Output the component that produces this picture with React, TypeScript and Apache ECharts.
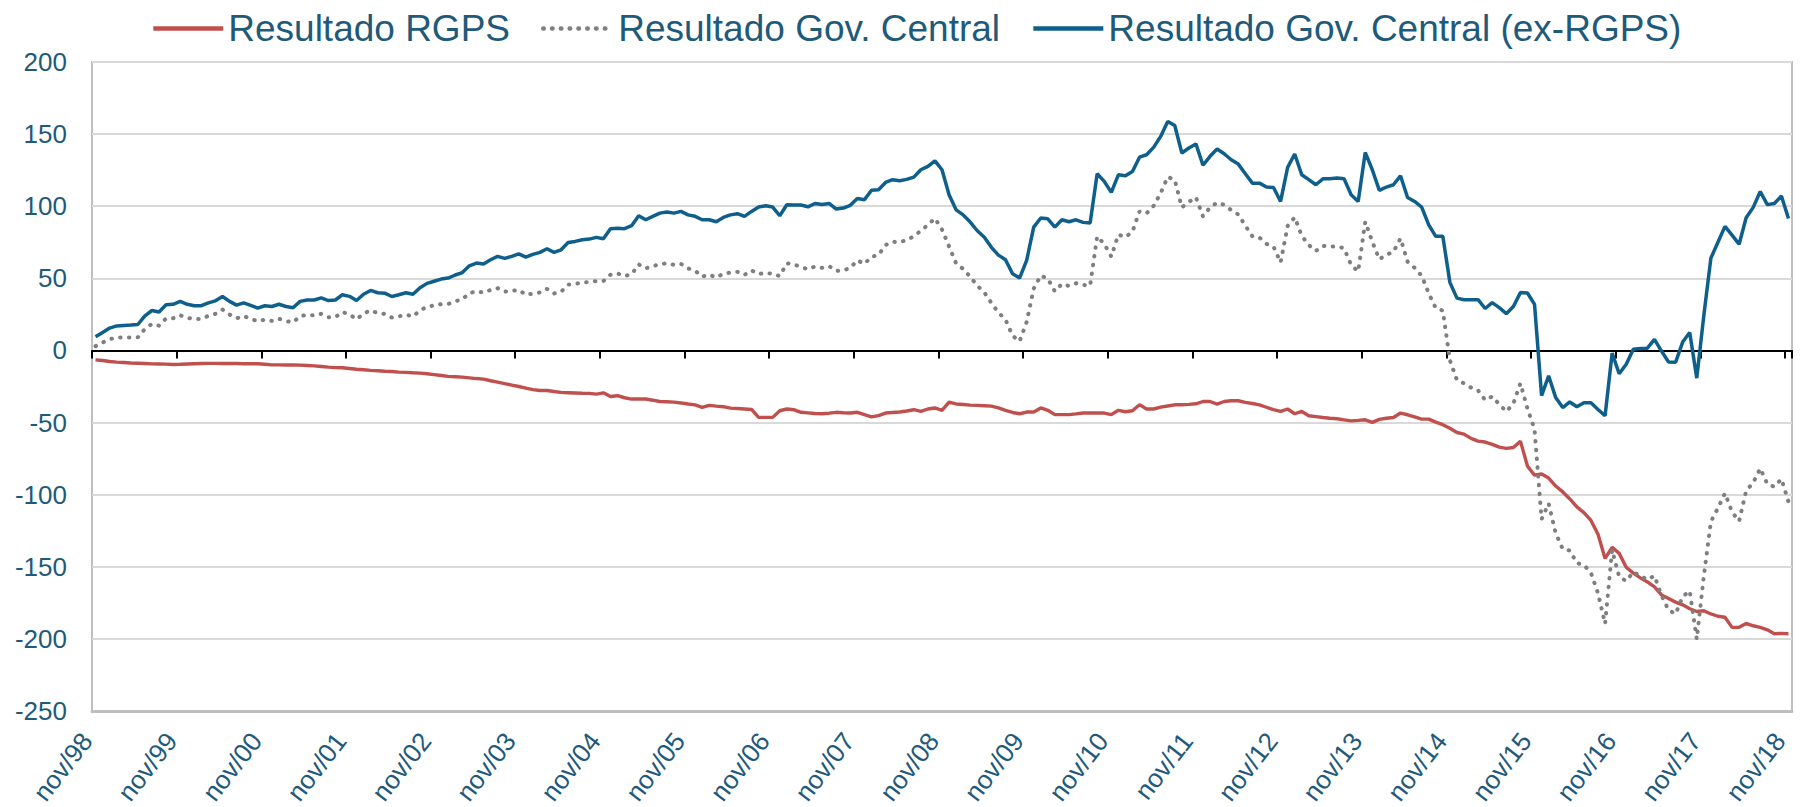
import React, { useEffect, useRef } from "react";
import * as echarts from "echarts";

const MONTHS = ["jan", "fev", "mar", "abr", "mai", "jun", "jul", "ago", "set", "out", "nov", "dez"];
const categories: string[] = [];
for (let k = 0; k < 241; k++) {
  const m = (10 + k) % 12;
  const y = 1998 + Math.floor((10 + k) / 12);
  categories.push(`${MONTHS[m]}/${String(y % 100).padStart(2, "0")}`);
}

const yTicks = { min: -250, max: 200, interval: 50 };

const seriesNames = ["Resultado RGPS", "Resultado Gov. Central", "Resultado Gov. Central (ex-RGPS)"];

const resultadoRGPS = [
  -6.5, -7, -7.7, -8.1, -8.4, -8.7, -8.9, -9.1, -9.3, -9.4,
  -9.5, -9.7, -9.6, -9.4, -9.2, -9.1, -9, -9, -9.1, -9.1,
  -9.1, -9.2, -9.2, -9.2, -9.6, -10, -10, -10.1, -10.1, -10.2,
  -10.4, -10.7, -11.1, -11.6, -11.9, -12, -12.5, -13, -13.4, -13.8,
  -14.1, -14.4, -14.6, -15, -15.2, -15.5, -15.7, -16.2, -16.8, -17.4,
  -18, -18.2, -18.5, -19, -19.5, -19.9, -21, -22, -23, -24,
  -25, -26.1, -27.2, -27.8, -27.8, -28.5, -29.1, -29.3, -29.5, -29.7,
  -29.8, -30.3, -29.4, -31.9, -31.4, -32.8, -33.7, -33.7, -33.7, -34.5,
  -35.4, -35.6, -35.8, -36.4, -37.1, -37.7, -39.5, -38.1, -38.6, -39,
  -40, -40.3, -40.6, -40.9, -46.4, -46.4, -46.4, -41.8, -40.6, -41.1,
  -42.9, -43.3, -43.7, -43.9, -43.5, -42.9, -43.2, -43.4, -42.9, -44.5,
  -46.1, -45.2, -43.4, -43, -42.7, -42, -41.1, -42.3, -40.6, -39.9,
  -41.5, -35.9, -37.1, -37.5, -37.9, -38.1, -38.3, -38.6, -39.8, -41.5,
  -43, -43.9, -42.7, -42.7, -39.9, -41.5, -44.5, -44.5, -44.5, -44,
  -43.4, -43.4, -43.4, -43.4, -44.5, -41.5, -42.5, -41.8, -37.6, -40.6,
  -40.6, -39.3, -38.5, -37.7, -37.7, -37.4, -37, -35.4, -35.4, -37.2,
  -35.4, -34.9, -34.9, -36, -36.8, -37.7, -39.4, -41.1, -42.3, -40.6,
  -43.9, -42.3, -45.3, -45.9, -46.5, -47, -47.4, -48.1, -48.8, -48.5,
  -48.1, -49.9, -47.8, -47, -46.5, -43.4, -44.6, -46, -47.6, -47.6,
  -49.7, -51.5, -54, -56.9, -58, -61, -62.9, -63.5, -65.1, -67,
  -67.9, -67.3, -62.9, -80.2, -86.5, -85.7, -88.5, -94, -98.1, -103,
  -108.5, -112.4, -117.9, -127.5, -144.2, -136.5, -140.7, -150.3, -154.4, -157.7,
  -160.5, -164, -169.5, -172, -174.5, -176.4, -179.1, -181, -180.5, -182.7,
  -184.3, -185, -192, -192, -189.3, -190.9, -192, -193.7, -196.4, -196.2,
  -196.4,
];

const resultadoGovCentral = [
  3, 5.5, 7.8, 8.9, 8.9, 8.9, 9.1, 14.9, 18.4, 17.2,
  22.2, 22.3, 24.4, 22.6, 21.8, 21.9, 24, 25.4, 28.3, 24.9,
  22.3, 23.8, 22, 20.2, 21.4, 20.5, 22, 20.4, 19.5, 23.8,
  24.6, 24.3, 25.4, 23, 23.1, 26.6, 25, 21.6, 25.6, 27.8,
  25.9, 25.3, 22.8, 23.6, 24.8, 23.5, 27.8, 30.3, 31.2, 32.1,
  32.2, 34.1, 35.5, 39.7, 41.1, 40.1, 41.9, 43.2, 40.8, 41.2,
  42, 38.6, 39.4, 40.2, 42.7, 39.5, 40.7, 45.6, 46.1, 47.1,
  47.4, 48.1, 48.1, 52.5, 53.4, 51.6, 52.8, 59.7, 56.9, 58.5,
  59.8, 60.4, 59.4, 60, 56.9, 55.3, 51.1, 52.5, 50.6, 53.2,
  54, 54.5, 52.4, 55.5, 53, 53.9, 53, 51.6, 60.4, 59.7,
  57.9, 56.3, 58.2, 57.3, 58.4, 55.1, 55.5, 57.2, 62.5, 60,
  64.9, 66.2, 73.1, 75.4, 75, 76.6, 79.1, 83, 87, 91.6,
  83.8, 72.1, 60.4, 56.5, 51.1, 44.9, 40.2, 32.9, 26.3, 21.4,
  10.2, 6.3, 19.7, 42.8, 51.9, 49.8, 41, 46.1, 44.7, 46.6,
  45.4, 44.9, 79.1, 73.8, 65.1, 80.3, 78.6, 82.3, 96.4, 95.1,
  100.2, 109.1, 120.3, 118.3, 99.2, 103, 106.2, 93, 99.2, 102.5,
  101, 97.3, 94.3, 86.5, 79.2, 78.3, 73.9, 71.9, 61, 86.3,
  92.3, 79.5, 73.1, 69, 72.5, 72, 72.1, 70.9, 59.2, 54.8,
  89.2, 75.4, 63.2, 66.3, 68.4, 77.7, 61.5, 57.3, 51.8, 39.5,
  29.4, 27.6, -6.8, -20.6, -22.8, -25.8, -27.7, -34.4, -31.9, -37.3,
  -42.4, -36.8, -22.8, -40.4, -54.6, -117, -106.1, -126.7, -137.7, -138.7,
  -147.5, -148.7, -154.2, -168.4, -189.5, -138.4, -156.9, -159.9, -153.6, -156.3,
  -158.9, -156.3, -170, -180, -182.7, -170.6, -166.7, -200.2, -156.3, -118.7,
  -109.3, -99, -112, -118.4, -97.3, -91.7, -81.8, -92.6, -94.5, -89.1,
  -104.9,
];

const resultadoExRGPS = [
  9.5, 12.5, 15.5, 17, 17.3, 17.6, 18, 24, 27.7, 26.6,
  31.7, 32, 34, 32, 31, 31, 33, 34.4, 37.4, 34,
  31.4, 33, 31.2, 29.4, 31, 30.5, 32, 30.5, 29.6, 34,
  35, 35, 36.5, 34.6, 35, 38.6, 37.5, 34.6, 39, 41.6,
  40, 39.7, 37.4, 38.6, 40, 39, 43.5, 46.5, 48, 49.5,
  50.2, 52.3, 54, 58.7, 60.6, 60, 62.9, 65.2, 63.8, 65.2,
  67, 64.7, 66.6, 68, 70.5, 68, 69.8, 74.9, 75.6, 76.8,
  77.2, 78.4, 77.5, 84.4, 84.8, 84.4, 86.5, 93.4, 90.6, 93,
  95.2, 96, 95.2, 96.4, 94, 93, 90.6, 90.6, 89.2, 92.2,
  94, 94.8, 93, 96.4, 99.4, 100.3, 99.4, 93.4, 101, 100.8,
  100.8, 99.6, 101.9, 101.2, 101.9, 98, 98.7, 100.6, 105.4, 104.5,
  111, 111.4, 116.5, 118.4, 117.7, 118.6, 120.2, 125.3, 127.6, 131.5,
  125.3, 108, 97.5, 94, 89, 83, 78.5, 71.5, 66.1, 62.9,
  53.2, 50.2, 62.4, 85.5, 91.8, 91.3, 85.5, 90.6, 89.2, 90.6,
  88.8, 88.3, 122.5, 117.2, 109.6, 121.8, 121.1, 124.1, 134, 135.7,
  140.8, 148.4, 158.8, 156, 136.9, 140.4, 143.2, 128.4, 134.6, 139.7,
  136.4, 132.2, 129.2, 122.5, 116, 116, 113.3, 113, 103.3, 126.9,
  136.2, 121.8, 118.4, 114.9, 119, 119, 119.5, 119, 108, 103.3,
  137.3, 125.3, 111, 113.3, 114.9, 121.1, 106.1, 103.3, 99.4, 87.1,
  79.1, 79.1, 47.2, 36.3, 35.2, 35.2, 35.2, 29.1, 33.2, 29.7,
  25.5, 30.5, 40.1, 39.8, 31.9, -31.3, -17.6, -32.7, -39.6, -35.7,
  -39, -36.3, -36.3, -40.9, -45.3, -1.9, -16.2, -9.6, 0.8, 1.4,
  1.6, 7.7, -0.5, -8, -8.2, 5.8, 12.4, -19.2, 24.2, 64,
  75, 86, 80, 73.6, 92, 99.2, 110.2, 101.1, 101.9, 107.1,
  91.5,
];

const TEXT = "#1F5A7A";
const FONT = "'Liberation Sans', Arial, sans-serif";

export default function App() {
  const ref = useRef<HTMLDivElement>(null);
  useEffect(() => {
    if (!ref.current) return;
    const chart = echarts.init(ref.current, undefined, { renderer: "svg" });
    chart.setOption({
      animation: false,
      backgroundColor: "#ffffff",
      textStyle: { fontFamily: FONT },
      legend: {
        left: 146,
        top: 5,
        itemWidth: 70,
        itemHeight: 14,
        itemGap: 31,
        itemStyle: { opacity: 0 },
        lineStyle: { width: 4.5 },
        textStyle: { fontSize: 37, color: TEXT, fontFamily: FONT },
        data: seriesNames,
      },
      grid: {
        left: 92,
        right: 18,
        top: 62,
        bottom: 96,
        containLabel: false,
        outerBoundsMode: "none",
        show: true,
        borderColor: "#bfbfbf",
        borderWidth: 2,
        backgroundColor: "transparent",
      },
      xAxis: [
        {
          type: "category",
          data: categories,
          position: "bottom",
          boundaryGap: true,
          axisLine: { show: true, onZero: false, lineStyle: { color: "#bfbfbf", width: 3 } },
          axisTick: { show: false },
          splitLine: { show: false },
          axisLabel: {
            interval: 11,
            rotate: 52,
            margin: 14,
            align: "right",
            verticalAlign: "middle",
            padding: [0, 14, 0, 0],
            fontSize: 26,
            color: TEXT,
            fontFamily: FONT,
          },
        },
        {
          type: "category",
          data: categories,
          position: "bottom",
          boundaryGap: true,
          axisLine: { show: true, onZero: true, lineStyle: { color: "#000000", width: 2 } },
          axisTick: { show: true, interval: 11, length: 8, lineStyle: { color: "#000000", width: 2 } },
          axisLabel: { show: false },
          splitLine: { show: false },
        },
      ],
      yAxis: {
        type: "value",
        min: yTicks.min,
        max: yTicks.max,
        interval: yTicks.interval,
        axisLine: { show: false },
        axisTick: { show: false },
        splitLine: { show: true, lineStyle: { color: "#d9d9d9", width: 2 } },
        axisLabel: { fontSize: 26, color: TEXT, margin: 25, fontFamily: FONT },
      },
      series: [
        {
          name: seriesNames[0],
          type: "line",
          xAxisIndex: 0,
          data: resultadoRGPS,
          symbol: "none",
          lineStyle: { color: "#C0504D", width: 3.4 },
          itemStyle: { color: "#C0504D" },
          z: 3,
        },
        {
          name: seriesNames[1],
          type: "line",
          xAxisIndex: 0,
          data: resultadoGovCentral,
          symbol: "none",
          lineStyle: { color: "#7F7F7F", width: 4, type: [0.5, 8.3], cap: "round" },
          itemStyle: { color: "#7F7F7F" },
          z: 4,
        },
        {
          name: seriesNames[2],
          type: "line",
          xAxisIndex: 0,
          data: resultadoExRGPS,
          symbol: "none",
          lineStyle: { color: "#0F5F8C", width: 3.5 },
          itemStyle: { color: "#0F5F8C" },
          z: 5,
        },
      ],
    });
    return () => chart.dispose();
  }, []);
  return (
    <div
      ref={ref}
      style={{ position: "absolute", left: 0, top: 0, width: 1810, height: 807, background: "#fff" }}
    />
  );
}
